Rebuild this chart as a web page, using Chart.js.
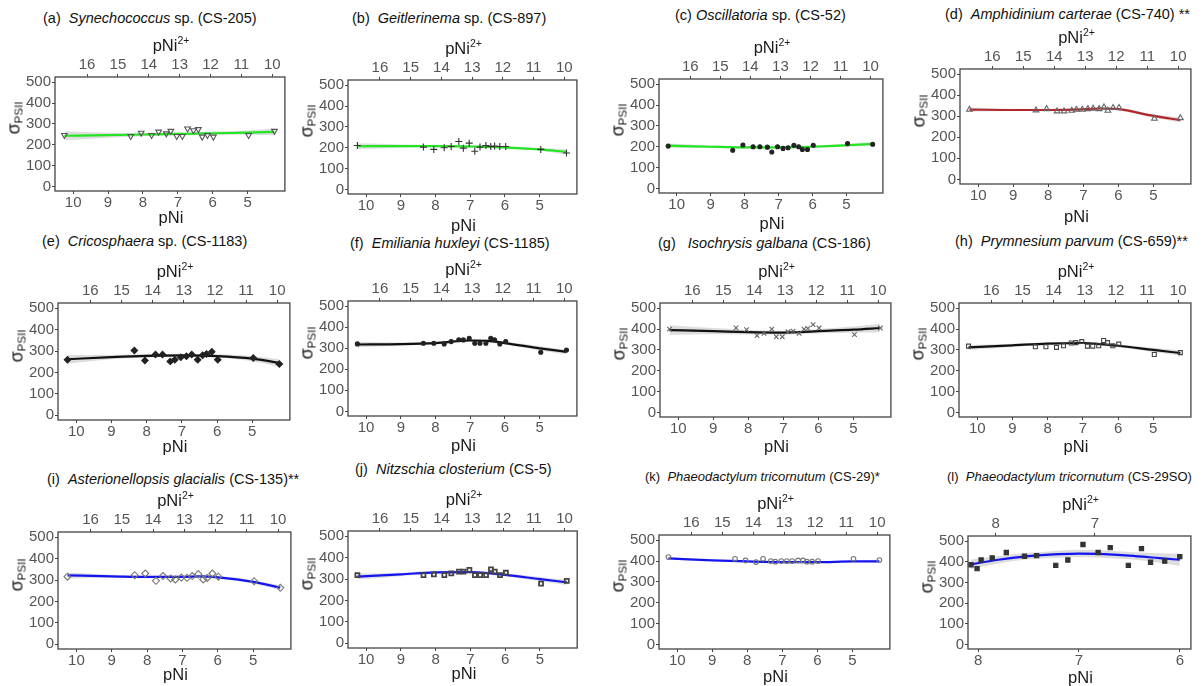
<!DOCTYPE html>
<html>
<head>
<meta charset="utf-8">
<script src="https://cdn.jsdelivr.net/npm/chart.js@4.4.0/dist/chart.umd.min.js"></script>
<style>
  body { margin: 0; width: 1204px; height: 686px; background: #fff; position: relative; overflow: hidden;
         font-family: "Liberation Sans", Arial, sans-serif; color: #111; }
  .cv { position: absolute; }
  .ttl { position: absolute; font-size: 14.5px; white-space: pre; transform: translateY(-50%); }
  .xt { position: absolute; font-size: 16.5px; white-space: nowrap; transform: translate(-50%, -50%); color: #1a1a1a; }
  .xt sup { font-size: 10.5px; vertical-align: 7px; line-height: 0; }
  .yt { position: absolute; font-size: 18px; white-space: nowrap; transform: translate(-50%, -50%) rotate(-90deg); color: #1a1a1a; }
  .yt sub { font-size: 11.5px; vertical-align: -3px; line-height: 0; }
</style>
</head>
<body>
<script>
// shared x values (pNi) and tick labels
const pNi = [10.25, 8.35, 8.05, 7.75, 7.55, 7.33, 7.2, 7.03, 6.87, 6.72, 6.55, 6.41, 6.3, 6.15, 5.98, 4.97, 4.23];
const fitX = [10.25, 9, 8, 7, 6.5, 6, 5, 4.23];
const bottomTicks = [10, 9, 8, 7, 6, 5];
const topTicks = [16, 15, 14, 13, 12, 11, 10];
const yTicks = [0, 100, 200, 300, 400, 500];

// (a) Synechococcus
const sigmaA = [246, 241, 257, 246, 262, 254, 266, 241, 241, 277, 269, 274, 238, 246, 238, 246, 266];
const fitA = [243, 246, 249, 252, 253, 255, 258, 262];
const loA = [221, 234, 241, 245, 246, 247, 248, 245];
const hiA = [265, 258, 257, 259, 260, 263, 268, 279];
// (b) Geitlerinema
const sigmaB = [211, 203, 192, 200, 206, 230, 198, 222, 183, 203, 211, 206, 208, 206, 206, 192, 175];
const fitB = [207, 208, 208, 206, 204, 201, 192, 180];
const loB = [193, 200, 202, 201, 199, 195, 185, 168];
const hiB = [221, 216, 214, 211, 209, 207, 199, 192];
// (c) Oscillatoria
const sigmaC = [203, 183, 208, 200, 200, 198, 175, 200, 192, 195, 207, 200, 187, 187, 207, 215, 212];
const fitC = [205, 200, 197, 197, 198, 200, 207, 213];
const loC = [195, 194, 192, 193, 194, 195, 200, 203];
const hiC = [215, 206, 202, 201, 202, 205, 214, 223];
// (d) Amphidinium
const sigmaD = [332, 329, 335, 324, 324, 327, 332, 332, 335, 337, 335, 343, 327, 340, 340, 289, 292];
const fitD = [332, 330, 330, 333, 337, 334, 302, 282];
const loD = [322, 325, 326, 329, 332, 328, 294, 270];
const hiD = [342, 335, 334, 337, 342, 340, 310, 294];
// (e) Cricosphaera
const sigmaE = [260, 303, 256, 284, 284, 252, 260, 271, 276, 284, 260, 281, 287, 297, 260, 268, 240];
const fitE = [262, 272, 278, 280, 279, 277, 265, 245];
const loE = [242, 262, 270, 274, 272, 269, 253, 228];
const hiE = [282, 282, 286, 286, 286, 285, 277, 262];
// (f) Emiliania
const sigmaF = [321, 324, 324, 321, 332, 341, 340, 348, 324, 324, 324, 348, 341, 321, 332, 281, 292];
const fitF = [318, 320, 325, 337, 335, 325, 300, 283];
const loF = [305, 312, 319, 330, 328, 318, 290, 272];
const hiF = [331, 328, 331, 344, 342, 332, 310, 294];
// (g) Isochrysis
const sigmaG = [400, 406, 397, 368, 379, 400, 363, 363, 387, 390, 379, 400, 403, 421, 405, 373, 405];
const fitG = [395, 390, 385, 383, 385, 390, 397, 405];
const loG = [372, 375, 374, 374, 376, 380, 382, 385];
const hiG = [418, 405, 396, 392, 394, 400, 412, 425];
// (h) Prymnesium
const sigmaH = [318, 315, 315, 312, 320, 333, 335, 340, 318, 318, 320, 345, 335, 320, 328, 278, 287];
const fitH = [312, 322, 330, 333, 328, 320, 300, 285];
const loH = [300, 314, 323, 327, 321, 313, 290, 273];
const hiH = [324, 330, 337, 339, 335, 327, 310, 297];
// (i) Asterionellopsis
const sigmaI = [316, 323, 331, 297, 319, 308, 303, 312, 311, 319, 328, 303, 310, 331, 316, 295, 264];
const fitI = [322, 318, 315, 315, 318, 313, 292, 265];
const loI = [308, 311, 309, 310, 312, 306, 284, 254];
const hiI = [336, 325, 321, 320, 324, 320, 300, 276];
// (j) Nitzschia
const sigmaJ = [319, 319, 322, 319, 327, 335, 335, 343, 319, 319, 319, 346, 335, 319, 330, 279, 292];
const fitJ = [312, 322, 332, 333, 328, 320, 300, 285];
const loJ = [298, 314, 325, 327, 321, 313, 290, 273];
const hiJ = [326, 330, 339, 339, 335, 327, 310, 297];
// (k) Phaeodactylum CS-29
const sigmaK = [419, 411, 403, 395, 411, 400, 397, 400, 400, 400, 403, 403, 397, 397, 400, 411, 405];
const fitK = [413, 403, 398, 395, 395, 395, 398, 398];
const loK = [408, 400, 395, 392, 392, 392, 394, 393];
const hiK = [418, 406, 401, 398, 398, 398, 402, 403];
// (l) Phaeodactylum CS-29SO (own x range)
const pNiL = [8.07, 8.01, 7.97, 7.86, 7.72, 7.54, 7.42, 7.23, 7.11, 6.96, 6.81, 6.69, 6.51, 6.38, 6.29, 6.15, 6.0];
const sigmaL = [386, 367, 409, 419, 445, 427, 430, 383, 409, 484, 445, 469, 383, 464, 398, 403, 425];
const fitXL = [8.07, 7.8, 7.5, 7.2, 7.0, 6.8, 6.5, 6.2, 6.0];
const fitL = [388, 410, 428, 437, 440, 438, 430, 418, 410];
const loL = [365, 392, 412, 420, 422, 420, 412, 395, 380];
const hiL = [411, 428, 444, 454, 458, 456, 448, 441, 440];
const bottomTicksL = [8, 7, 6];
const topTicksL = [8, 7];

const GREEN = '#22e622', RED = '#b3262b', BLACK = '#111111', BLUE = '#1414f0';
const pt = (xs, ys) => xs.map((x, i) => ({ x: x, y: ys[i] }));

const panels = [
  { title: '(a)  <i>Synechococcus</i> sp. (CS-205)', tl: [43, 18], box: [55, 77, 287, 191], xLab: 217,
    y: sigmaA, fit: fitA, lo: loA, hi: hiA, color: GREEN, mk: { style: 'triangle', rot: 180, r: 3.3, fill: false, c: '#555' } },
  { title: '(b)  <i>Geitlerinema</i> sp. (CS-897)', tl: [352, 18], box: [348, 80, 579, 194], xLab: 225,
    y: sigmaB, fit: fitB, lo: loB, hi: hiB, color: GREEN, mk: { style: 'cross', r: 3.5, fill: false, c: '#333' } },
  { title: '(c) <i>Oscillatoria</i> sp. (CS-52)', tl: [675, 15], box: [659, 79, 885, 193], xLab: 223,
    y: sigmaC, fit: fitC, lo: loC, hi: hiC, color: GREEN, mk: { style: 'circle', r: 2, fill: true, c: '#222' } },
  { title: '(d)  <i>Amphidinium carterae</i> (CS-740) **', tl: [945, 14], box: [960, 69, 1193, 184], xLab: 216,
    y: sigmaD, fit: fitD, lo: loD, hi: hiD, color: RED, mk: { style: 'triangle', r: 3.3, fill: false, c: '#666' } },
  { title: '(e)  <i>Cricosphaera</i> sp. (CS-1183)', tl: [42, 241], box: [58, 303, 292, 420], xLab: 446,
    y: sigmaE, fit: fitE, lo: loE, hi: hiE, color: BLACK, mk: { style: 'rectRot', r: 3.2, fill: true, c: '#222' } },
  { title: '(f)  <i>Emiliania huxleyi</i> (CS-1185)', tl: [350, 243], box: [348, 301, 579, 416], xLab: 445,
    y: sigmaF, fit: fitF, lo: loF, hi: hiF, color: BLACK, mk: { style: 'circle', r: 2, fill: true, c: '#222' } },
  { title: '(g)   <i>Isochrysis galbana</i> (CS-186)', tl: [658, 243], box: [660, 303, 893, 417], xLab: 446,
    y: sigmaG, fit: fitG, lo: loG, hi: hiG, color: BLACK, mk: { style: 'crossRot', r: 3.2, fill: false, c: '#666' } },
  { title: '(h)  <i>Prymnesium parvum</i> (CS-659)**', tl: [955, 241], box: [959, 303, 1193, 417], xLab: 446,
    y: sigmaH, fit: fitH, lo: loH, hi: hiH, color: BLACK, mk: { style: 'rect', r: 2.8, fill: false, c: '#444' } },
  { title: '(i)  <i>Asterionellopsis glacialis</i> (CS-135)**', tl: [47, 479], box: [58, 532, 293, 649], xLab: 674,
    y: sigmaI, fit: fitI, lo: loI, hi: hiI, color: BLUE, mk: { style: 'rectRot', r: 3.5, fill: false, c: '#777' } },
  { title: '(j)  <i>Nitzschia closterium</i> (CS-5)', tl: [355, 469], box: [348, 531, 580, 648], xLab: 673,
    y: sigmaJ, fit: fitJ, lo: loJ, hi: hiJ, color: BLUE, mk: { style: 'rect', r: 2.8, fill: false, c: '#444', bw: 1.8 } },
  { title: '(k)  <i>Phaeodactylum tricornutum</i> (CS-29)*', tl: [645, 476], fs: 13, box: [659, 535, 892, 649], xLab: 676,
    y: sigmaK, fit: fitK, lo: loK, hi: hiK, color: BLUE, mk: { style: 'circle', r: 2.3, fill: false, c: '#777' } },
  { title: '(l)  <i>Phaeodactylum tricornutum</i> (CS-29SO)', tl: [947, 476], fs: 13, box: [968, 536, 1193, 649], xLab: 677,
    x: pNiL, fx: fitXL, y: sigmaL, fit: fitL, lo: loL, hi: hiL, color: BLUE,
    bt: bottomTicksL, tt: topTicksL, xr: [5.89, 8.1], tr: [6.03, 8.28],
    mk: { style: 'rect', r: 3, fill: true, c: '#333' } }
];

const Y_W = 34, TOP_H = 24, BOT_H = 24, PAD_R = 3;
const tickFont = { family: 'Liberation Sans', size: 15 };
const tickColor = '#555555';

const framePlugin = {
  id: 'frame',
  afterDraw(chart) {
    const a = chart.chartArea, ctx = chart.ctx;
    ctx.save();
    ctx.strokeStyle = '#444';
    ctx.lineWidth = 1.3;
    ctx.strokeRect(a.left, a.top, a.right - a.left, a.bottom - a.top);
    ctx.restore();
  }
};

function addText(cls, html, x, y, fs) {
  const d = document.createElement('div');
  d.className = cls;
  d.innerHTML = html;
  d.style.left = x + 'px';
  d.style.top = y + 'px';
  if (fs) d.style.fontSize = fs + 'px';
  document.body.appendChild(d);
}

function axisCommon(ticks, size, isX) {
  return {
    type: 'linear',
    afterBuildTicks: s => { s.ticks = ticks.map(v => ({ value: v })); },
    afterFit: s => { if (isX) s.height = size; else s.width = size; },
    grid: { display: true, drawOnChartArea: false, drawTicks: true, tickLength: 3, color: '#444' },
    border: { display: false },
    ticks: { font: tickFont, color: tickColor, padding: 0, maxRotation: 0, autoSkip: false }
  };
}

panels.forEach(p => {
  const [l, t, r, b] = p.box;
  const xs = p.x || pNi, fxs = p.fx || fitX;
  const xr = p.xr || [3.93, 10.52], tr = p.tr || [9.59, 17.04];

  const wrap = document.createElement('div');
  wrap.className = 'cv';
  const w = r - l + Y_W + PAD_R, h = b - t + TOP_H + BOT_H;
  wrap.style.left = (l - Y_W) + 'px';
  wrap.style.top = (t - TOP_H) + 'px';
  wrap.style.width = w + 'px';
  wrap.style.height = h + 'px';
  const canvas = document.createElement('canvas');
  wrap.appendChild(canvas);
  document.body.appendChild(wrap);

  const x = Object.assign(axisCommon(p.bt || bottomTicks, BOT_H, true),
    { position: 'bottom', reverse: true, min: xr[0], max: xr[1] });
  const x2 = Object.assign(axisCommon(p.tt || topTicks, TOP_H, true),
    { position: 'top', reverse: true, min: tr[0], max: tr[1] });
  const y = Object.assign(axisCommon(yTicks, Y_W, false),
    { position: 'left', min: -22, max: 525 });
  y.ticks = Object.assign({}, y.ticks, { padding: 1 });

  new Chart(canvas, {
    type: 'scatter',
    data: {
      datasets: [
        { type: 'line', data: pt(fxs, p.lo), borderWidth: 0, pointRadius: 0, fill: false,
          cubicInterpolationMode: 'monotone', order: 3 },
        { type: 'line', data: pt(fxs, p.hi), borderWidth: 0, pointRadius: 0, fill: '-1',
          backgroundColor: 'rgba(170,170,170,0.4)', cubicInterpolationMode: 'monotone', order: 2 },
        { type: 'line', data: pt(fxs, p.fit), borderColor: p.color, borderWidth: 2.2, pointRadius: 0,
          fill: false, cubicInterpolationMode: 'monotone', order: 1 },
        { type: 'scatter', data: pt(xs, p.y), pointStyle: p.mk.style, rotation: p.mk.rot || 0,
          pointRadius: p.mk.r, borderColor: p.mk.c, borderWidth: p.mk.bw || 1.1,
          backgroundColor: p.mk.fill ? p.mk.c : 'rgba(0,0,0,0)', order: 0 }
      ]
    },
    options: {
      responsive: true,
      maintainAspectRatio: false,
      animation: false,
      layout: { padding: { left: 0, top: 0, bottom: 0, right: PAD_R } },
      plugins: { legend: { display: false }, tooltip: { enabled: false } },
      scales: { x: x, x2: x2, y: y }
    },
    plugins: [framePlugin]
  });

  // titles and axis titles as HTML text
  addText('ttl', p.title, p.tl[0], p.tl[1], p.fs);
  const cx = (l + r) / 2;
  addText('xt', 'pNi<sup>2+</sup>', cx, t - 32);
  addText('xt', 'pNi', cx, p.xLab);
  addText('yt', '&sigma;<sub>PSII</sub>', l - 41, (t + b) / 2 - 16);
});
</script>
</body>
</html>
